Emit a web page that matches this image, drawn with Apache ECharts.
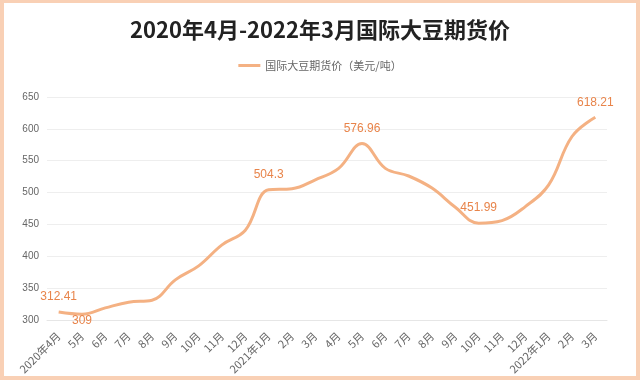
<!DOCTYPE html>
<html><head><meta charset="utf-8">
<script src="https://cdn.jsdelivr.net/npm/echarts@6/dist/echarts.min.js"></script>
<style>
html,body{margin:0;padding:0;background:#fff;}
#wrap{position:absolute;left:0;top:0;width:640px;height:380px;box-sizing:border-box;border:4px solid #f9d0b5;border-top-width:3px;}
#c{position:absolute;left:0;top:0;width:640px;height:380px;}
</style></head>
<body><div id="wrap"></div><div id="c"></div>
<script>
const categories = ['2020年4月','5月','6月','7月','8月','9月','10月','11月','12月','2021年1月','2月','3月','4月','5月','6月','7月','8月','9月','10月','11月','12月','2022年1月','2月','3月'];
const prices = [312.41,309,319,328,331,363,385,418,441,504.3,506,520,538,576.96,538,526,507,477,451.99,456,478,512,588,618.21];
const labeledIdx = [0,1,9,13,18,23];
const yTicks = {min:300,max:650,interval:50};
const titleText = '2020年4月-2022年3月国际大豆期货价';
const seriesName = '国际大豆期货价（美元/吨）';

const chart = echarts.init(document.getElementById('c'));
const data = prices.map((v,i)=>{
  const o = {value:v};
  if (labeledIdx.includes(i)) {
    o.label = {show:true, position: i===1 ? 'bottom' : 'top', distance: i===1?0:9};
  }
  return o;
});
chart.setOption({
  animation:false,
  title:{text:titleText,left:'center',top:14,textStyle:{fontFamily:'Noto Sans CJK SC',fontSize:22,fontWeight:'bold',color:'#222'}},
  legend:{top:55,left:'center',itemWidth:22,itemHeight:3,icon:'rect',textStyle:{fontFamily:'Noto Sans CJK SC',fontSize:11,color:'#666'},data:[seriesName]},
  grid:{left:47,right:33,top:97,bottom:60},
  xAxis:{type:'category',data:categories,boundaryGap:true,
    axisLine:{lineStyle:{color:'#e6e6e6'}},axisTick:{show:false},
    axisLabel:{rotate:45,interval:0,fontSize:11,color:'#666',fontFamily:'Noto Sans CJK SC',margin:14}},
  yAxis:{type:'value',min:yTicks.min,max:yTicks.max,interval:yTicks.interval,
    axisLine:{show:false},axisTick:{show:false},
    axisLabel:{fontSize:10,color:'#666',margin:8},
    splitLine:{lineStyle:{color:'#eeeeee'}}},
  series:[{name:seriesName,type:'line',smooth:0.4,symbol:'circle',symbolSize:0.1,showSymbol:true,data:data,
    lineStyle:{color:'#f4b183',width:3},itemStyle:{color:'#f4b183'},
    label:{show:false,color:'#e8844a',fontSize:12,formatter:p=>String(p.value)}}]
});
</script></body></html>
